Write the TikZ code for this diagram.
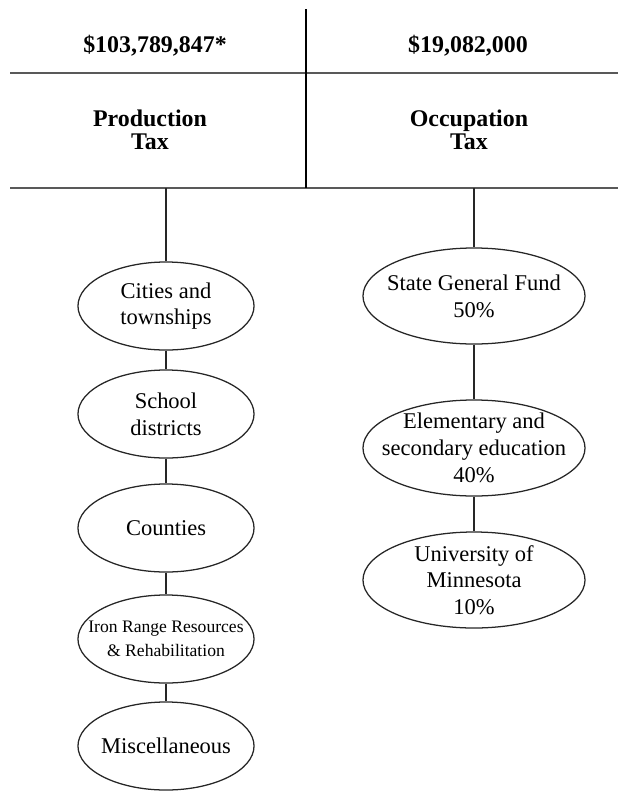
\documentclass[tikz,border=0pt]{standalone}
\usepackage{fontspec}
\setmainfont{Liberation Serif}
\usetikzlibrary{shapes.geometric}
\tikzset{
  fund/.style={draw=black!85, line width=0.9pt, ellipse,
    inner xsep=-22pt, inner ysep=-9pt,
    minimum width=4.4cm, minimum height=2.2cm, align=center,
    font=\fontsize{16}{19}\selectfont},
  wfund/.style={fund, minimum width=5.55cm, minimum height=2.4cm},
  head/.style={align=center, font=\fontsize{17}{16}\selectfont\bfseries},
  rule/.style={draw=black!65, line width=1.4pt}
}
\begin{document}
\begin{tikzpicture}[x=0.025cm, y=-0.025cm]
  \useasboundingbox (0,0) rectangle (618,791);
  \draw
    (155,46) node[head] (pamt) {\$103,789,847*}
    (468,46) node[head] (oamt) {\$19,082,000}
    (150,130) node[head] (ptax) {Production\\Tax}
    (469,130) node[head] (otax) {Occupation\\Tax};
  \draw[rule] (10,73) -- (618,73);
  \draw[rule] (10,188) -- (618,188);
  \draw[line width=1.1pt] (306,9) -- (306,188);
  \coordinate (ptop) at (166,188);
  \coordinate (otop) at (474,188);
  \draw
    (166,306) node[fund] (city) {Cities and\\townships}
    (166,414) node[fund] (school) {School\\districts}
    (166,528) node[fund] (county) {Counties}
    (166,639) node[fund, font=\fontsize{12.5}{17}\selectfont] (irrr) {Iron Range Resources\\\& Rehabilitation}
    (166,746) node[fund] (misc) {Miscellaneous}
    (474,296) node[wfund] (state) {State General Fund\\50\%}
    (474,448) node[wfund] (educ) {Elementary and\\secondary education\\40\%}
    (474,580) node[wfund] (univ) {University of\\Minnesota\\10\%};
  \begin{scope}[draw=black!85, line width=0.9pt]
    \draw (ptop) to (city);
    \draw (city) to (school);
    \draw (school) to (county);
    \draw (county) to (irrr);
    \draw (irrr) to (misc);
    \draw (otop) to (state);
    \draw (state) to (educ);
    \draw (educ) to (univ);
  \end{scope}
\end{tikzpicture}
\end{document}
